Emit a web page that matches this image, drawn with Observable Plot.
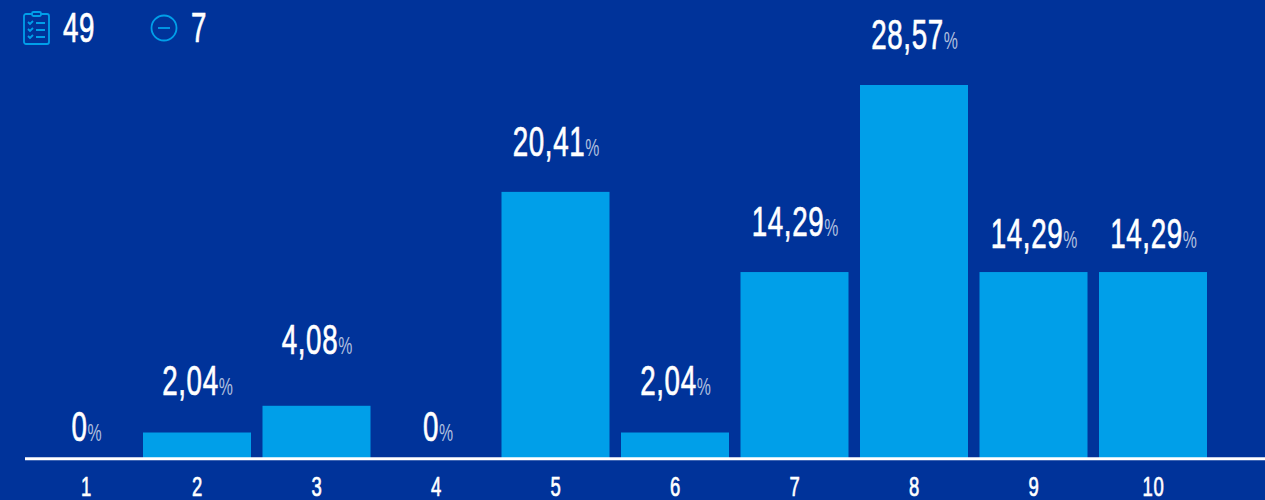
<!DOCTYPE html>
<html><head><meta charset="utf-8">
<script src="https://cdn.jsdelivr.net/npm/d3@7"></script>
<script src="https://cdn.jsdelivr.net/npm/@observablehq/plot@0.6"></script>
<style>
html,body{margin:0;padding:0;background:#00339a;overflow:hidden;width:1265px;height:500px}
#chart{position:absolute;left:0;top:0}
.stat{position:absolute;top:7px;color:#fff;font:400 42px/42px "Liberation Sans Narrow",sans-serif;letter-spacing:1px;-webkit-text-stroke:.7px #fff;transform:scaleX(.66);transform-origin:left top}
.icon{position:absolute;fill:none;stroke:#009fe9;stroke-width:1.8}
#chart text.val{stroke:#fff;stroke-width:.7px;letter-spacing:1px}
#chart text.val tspan{stroke:none;letter-spacing:0}
</style></head><body>
<div id="chart"></div>
<svg class="icon" style="left:22px;top:10px" width="30" height="36" viewBox="0 0 30 36">
<rect x="2" y="4" width="25" height="30" rx="2"/><rect x="10" y="2" width="9" height="4" rx="1.5" fill="#00339a"/>
<path d="M6 12l2 2 3-3M6 19l2 2 3-3M6 26l2 2 3-3M14 13h9M14 20h9M14 27h9"/></svg>
<div class="stat" id="s1" style="left:63px"></div>
<svg class="icon" style="left:150px;top:14px" width="28" height="28" viewBox="0 0 28 28">
<circle cx="14" cy="14" r="12.5"/><path d="M8 14h12"/></svg>
<div class="stat" id="s2" style="left:191px"></div>
<script>
const categories = [1,2,3,4,5,6,7,8,9,10];
const percents = [0,2.04,4.08,0,20.41,2.04,14.29,28.57,14.29,14.29];
const percentLabels = ["0","2,04","4,08","0","20,41","2,04","14,29","28,57","14,29","14,29"];
const answered = 49;
const skipped = 7;

document.getElementById("s1").textContent = answered;
document.getElementById("s2").textContent = skipped;

const rows = categories.map((c,i)=>({c, v:percents[i], label:percentLabels[i]+"%"}));
const labelDy = [-32,-51,-66,-32,-50,-51,-50,-50,-38,-38];
const labelDx = [8.5,0,0,1.5,0,0,0,0,0,0];
const font = '"Liberation Sans Narrow",sans-serif';

const plot = Plot.plot({
  width:1265, height:500,
  marginLeft:25, marginRight:0, marginTop:85, marginBottom:43,
  style:{background:"transparent",overflow:"visible"},
  x:{type:"band",domain:categories,range:[12,1218.5],padding:.0962,round:false,axis:null},
  y:{domain:[0.17,28.57],axis:null},
  marks:[
    Plot.barY(rows,{x:"c",y:"v",fill:"#009fe9"}),
    Plot.ruleY([0],{stroke:"#fff",strokeWidth:2.8,dy:-1}),
    ...rows.map((r,i)=>Plot.text([r],{x:"c",y:"v",text:"label",fill:"#fff",dy:labelDy[i],dx:labelDx[i],fontSize:42,fontFamily:font})),
    ...rows.map((r,i)=>Plot.text([r],{x:"c",y:0,text:d=>String(d.c),fill:"#fff",dy:27,dx:i==0?8.5:0,fontSize:28,fontFamily:font}))
  ]
});
document.getElementById("chart").append(plot);
plot.querySelectorAll("text").forEach(t=>{
  const s=t.textContent;
  t.setAttribute("class","val");
  t.setAttribute("transform",(t.getAttribute("transform")||"")+" scale(.66,1)");
  if(s.endsWith("%")){
    t.textContent=s.slice(0,-1);
    const p=document.createElementNS("http://www.w3.org/2000/svg","tspan");
    p.textContent="%";p.setAttribute("font-size",24);p.setAttribute("fill-opacity",.7);
    t.append(p);
  }
});
</script></body></html>
